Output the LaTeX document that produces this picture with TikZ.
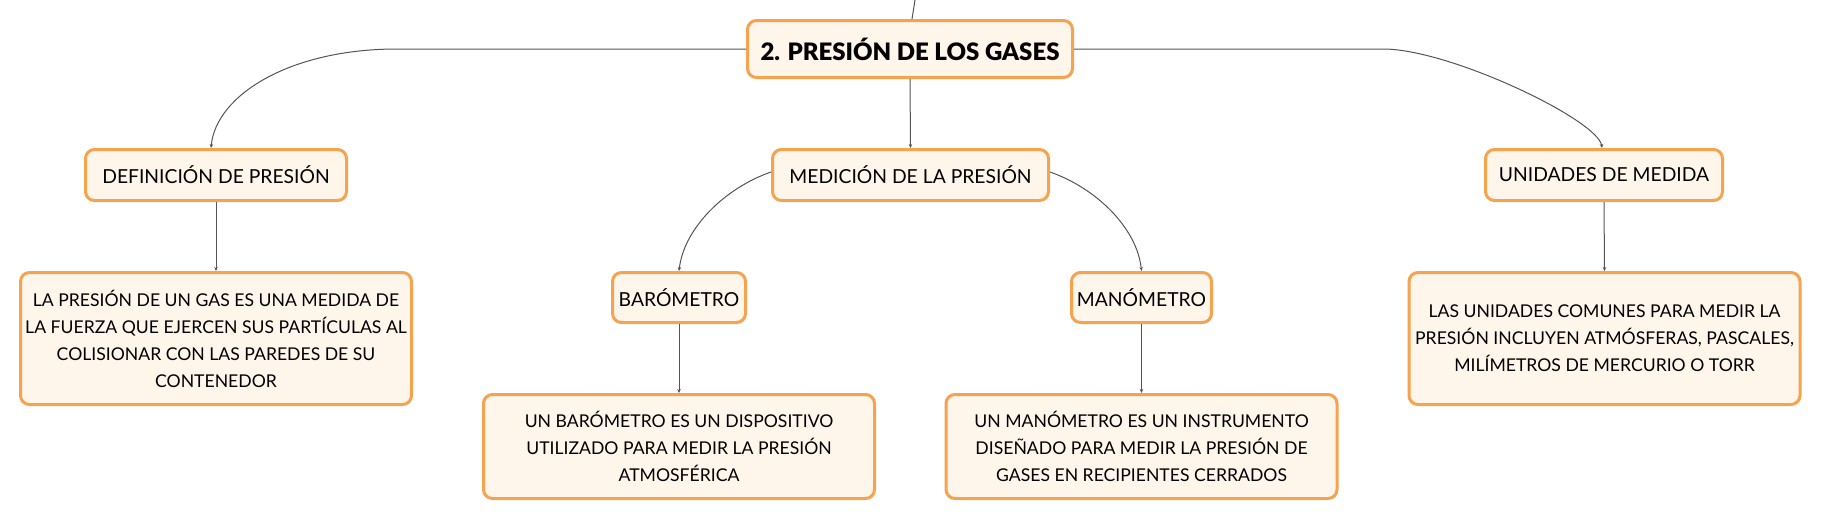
\documentclass[tikz,border=0pt]{standalone}
\usepackage{fontspec}
\setmainfont{Lato}
\newfontfamily\heavyfont{Lato Black}
\usetikzlibrary{arrows.meta}
\definecolor{boxfill}{HTML}{FEF5EB}
\definecolor{boxline}{HTML}{F5A34E}
\definecolor{conn}{HTML}{555555}
\tikzset{
  box/.style={draw=boxline, fill=boxfill, line width=3pt, rounded corners=9pt, align=center, inner sep=0pt},
  titlebox/.style={box, font=\fontsize{19.3}{24}\selectfont, minimum height=51pt},
  textbox/.style={box, font=\fontsize{17.6}{27}\selectfont, minimum width=391pt},
  rootbox/.style={box, font=\fontsize{24}{28}\selectfont\heavyfont, minimum width=325pt, minimum height=57pt},
  link/.style={draw=conn, line width=1pt, -{Stealth[length=4pt,width=3.5pt]}},
  plain/.style={draw=conn, line width=1pt}
}
\begin{document}
\begin{tikzpicture}[x=1pt,y=-1pt]
\useasboundingbox[fill=white] (0,0) rectangle (1821,520);
\node[rootbox] (root) at (910,49) {2. PRESIÓN DE LOS GASES};
\node[titlebox, minimum width=261pt] (def) at (216,175) {DEFINICIÓN DE PRESIÓN};
\node[titlebox, minimum width=276pt] (med) at (910.5,175) {MEDICIÓN DE LA PRESIÓN};
\node[titlebox, minimum width=237pt] (uni) at (1604,175) {UNIDADES DE MEDIDA};
\node[textbox, minimum height=132pt] (defT) at (216,338.5) {LA PRESIÓN DE UN GAS ES UNA MEDIDA DE\\LA FUERZA QUE EJERCEN SUS PARTÍCULAS AL\\COLISIONAR CON LAS PAREDES DE SU\\CONTENEDOR};
\node[textbox, minimum height=132pt] (uniT) at (1604.5,338.5) {LAS UNIDADES COMUNES PARA MEDIR LA\\PRESIÓN INCLUYEN ATMÓSFERAS, PASCALES,\\MILÍMETROS DE MERCURIO O TORR};
\node[titlebox, minimum width=133pt, minimum height=50pt] (bar) at (679,297.5) {BARÓMETRO};
\node[titlebox, minimum width=140pt, minimum height=50pt] (man) at (1141.5,297.5) {MANÓMETRO};
\node[textbox, minimum height=104pt] (barT) at (679,446.5) {UN BARÓMETRO ES UN DISPOSITIVO\\UTILIZADO PARA MEDIR LA PRESIÓN\\ATMOSFÉRICA};
\node[textbox, minimum height=104pt] (manT) at (1141.5,446.5) {UN MANÓMETRO ES UN INSTRUMENTO\\DISEÑADO PARA MEDIR LA PRESIÓN DE\\GASES EN RECIPIENTES CERRADOS};
\coordinate (topend) at (915,0);
\coordinate (lbend) at (397,49);
\coordinate (rbend) at (1383,49);
% connectors
\draw[plain] (topend) -- ([xshift=2pt]root.north);
\draw[link] (root.west) -- (lbend) .. controls (290,49) and (216,95) .. ([xshift=-5pt]def.north);
\draw[link] (root.east) -- (rbend) .. controls (1450,49) and (1598,120) .. ([xshift=-2pt]uni.north);
\draw[link] (root.south) -- (med.north);
\draw[link] (def.south) -- (defT.north);
\draw[link] (uni.south) -- (uniT.north);
\draw[link] ([yshift=3pt]med.west) .. controls (725,188) and (684,228) .. (bar.north);
\draw[link] ([yshift=3pt]med.east) .. controls (1096,188) and (1137,228) .. (man.north);
\draw[link] (bar.south) -- (barT.north);
\draw[link] (man.south) -- (manT.north);
\end{tikzpicture}
\end{document}
